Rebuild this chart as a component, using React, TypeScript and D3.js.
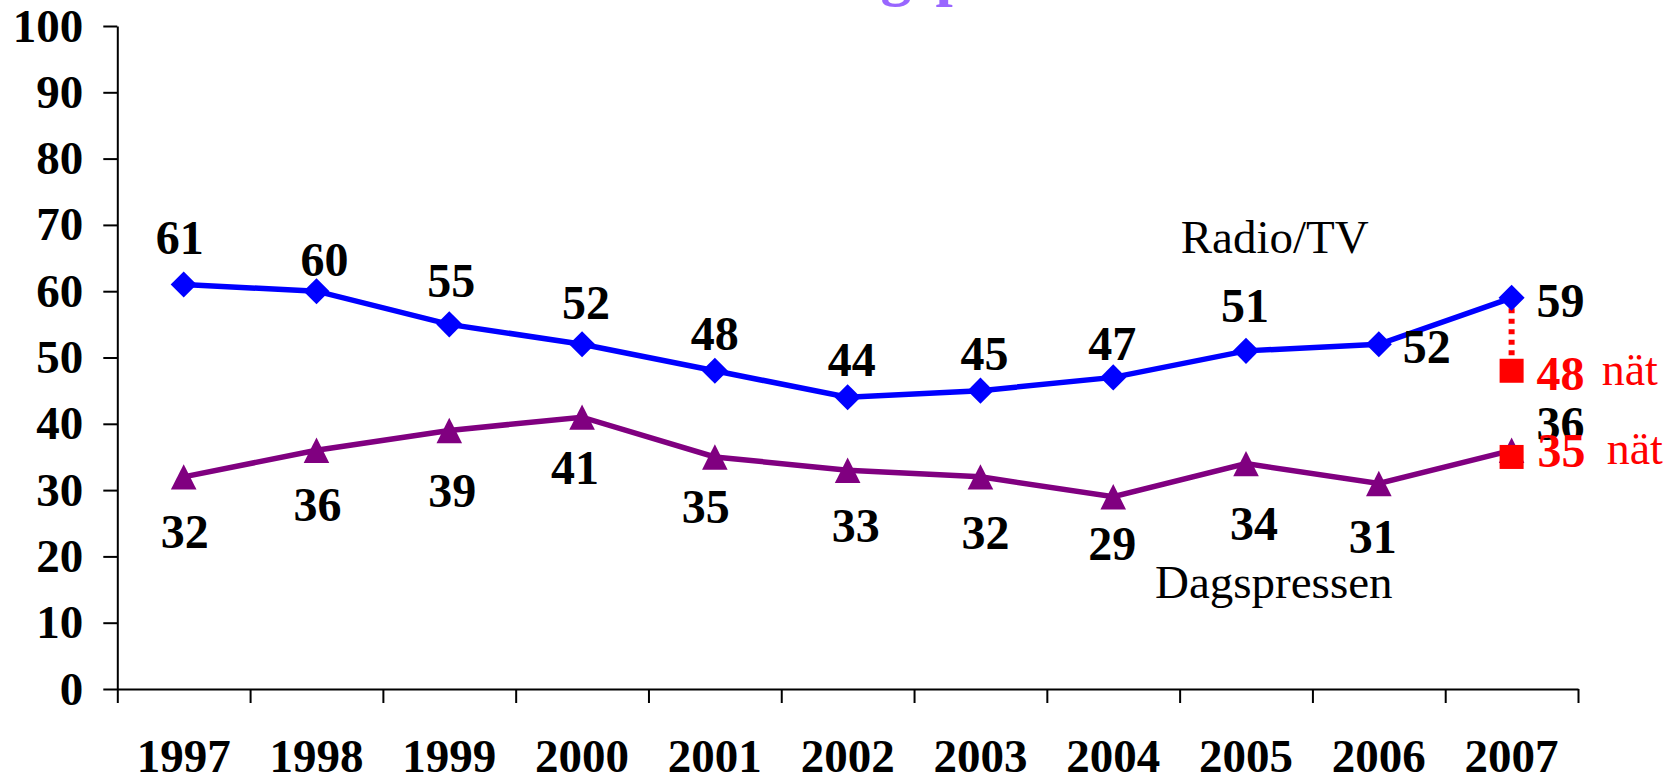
import React, { useRef, useEffect } from 'react';
import * as d3 from 'd3';

// values
const years = ['1997', '1998', '1999', '2000', '2001', '2002', '2003', '2004', '2005', '2006', '2007'];
const radioTv = [61, 60, 55, 52, 48, 44, 45, 47, 51, 52, 59];
const dagspressen = [32, 36, 39, 41, 35, 33, 32, 29, 34, 31, 36];
const natYear = '2007';
const radioTvNat = 48;
const dagspressenNat = 35;
const yTicks = [0, 10, 20, 30, 40, 50, 60, 70, 80, 90, 100];

// label placement (px from the point: centre dx, baseline dy), like the hand-placed labels
const radioLabelPos = [[-4, -31], [8, -15], [2, -27], [4, -25], [0, -21], [4, -21], [4, -21], [-1, -17], [-1, -29], [48, 19], [49, 19]];
const dagsLabelPos = [[1, 71], [1, 71], [3, 77], [-7, 67], [-9, 66], [8, 72], [5, 72], [-1, 63], [8, 76], [-6, 70], [49, -10]];

const W = 1679;
const H = 775;
const left = 117.3;
const right = 1578;
const top = 26;
const bottom = 689;

const serif = "'Liberation Serif', 'Times New Roman', serif";
const BLUE = '#0000ff';
const PURPLE = '#800080';
const RED = '#ff0000';

const App = () => {
    const yAxisRef = useRef<SVGGElement>(null);
    const xAxisRef = useRef<SVGGElement>(null);
    const xLabelRef = useRef<SVGGElement>(null);

    const x = d3.scaleBand().domain(years).range([left, right]).paddingInner(0).paddingOuter(0);
    const xb = d3.scaleLinear().domain([0, years.length]).range([left, right]);
    const y = d3.scaleLinear().domain([0, 100]).range([bottom, top]);
    const cx = (yr: string) => (x(yr) as number) + x.bandwidth() / 2;

    const line = d3.line<number>()
        .x((_, i) => cx(years[i]))
        .y(d => y(d));

    const diamond = d3.symbol().type(d3.symbolSquare).size(340)();
    const triangle = d3.line()([[0, -12.7], [12.8, 12.7], [-12.8, 12.7]]) + 'Z';

    useEffect(() => {
        const ya = d3.select(yAxisRef.current);
        ya.selectAll('*').remove();
        ya.call(d3.axisLeft(y).tickValues(yTicks).tickSize(14).tickSizeOuter(0).tickPadding(20));

        const xa = d3.select(xAxisRef.current);
        xa.selectAll('*').remove();
        xa.call(d3.axisBottom(xb).tickValues(d3.range(0, years.length + 1)).tickFormat(() => '').tickSize(14).tickSizeOuter(0));

        const xl = d3.select(xLabelRef.current);
        xl.selectAll('*').remove();
        xl.call(d3.axisBottom(x).tickSize(0).tickPadding(49.6));
        xl.select('.domain').remove();

        [ya, xa, xl].forEach(g => {
            g.selectAll('.domain').attr('stroke', '#000').attr('stroke-width', 2);
            g.selectAll('line').attr('stroke', '#000').attr('stroke-width', 2);
            g.selectAll('text')
                .attr('fill', '#000')
                .style('font-family', serif)
                .style('font-weight', 'bold');
            g.attr('font-size', null).attr('font-family', null);
        });
        ya.selectAll('text').style('font-size', '47px');
        xl.selectAll('text').style('font-size', '47px');
    }, []);

    const nx = cx(natYear);

    return (
        <div style={{ position: 'absolute', left: 0, top: 0 }}>
            <svg width={W} height={H} style={{ display: 'block', background: '#fff' }}>
                {/* title, mostly above the visible area */}
                <text x={815} y={-6} textAnchor="end" fill="#9966ff" fontFamily={serif} fontWeight="bold" fontSize={62}>Förtroende för </text>
                <text x={815} y={-6} fill="#9966ff" fontFamily={serif} fontWeight="bold" fontSize={62}>dagspressen och radio/TV</text>

                <g ref={yAxisRef} transform={`translate(${left},0)`} />
                <g ref={xAxisRef} transform={`translate(0,${bottom})`} />
                <g ref={xLabelRef} transform={`translate(0,${bottom})`} />

                {/* web figures for 2007 */}
                <line x1={nx} x2={nx} y1={y(radioTv[radioTv.length - 1])} y2={y(radioTvNat)}
                    stroke={RED} strokeWidth={6} strokeDasharray="5,5.5" />

                <path d={line(dagspressen) as string} fill="none" stroke={PURPLE} strokeWidth={5.5} />
                <path d={line(radioTv) as string} fill="none" stroke={BLUE} strokeWidth={5.5} />

                {radioTv.map((v, i) => (
                    <path key={'r' + i} d={diamond as string} fill={BLUE}
                        transform={`translate(${cx(years[i])},${y(v)}) rotate(45)`} />
                ))}
                {dagspressen.map((v, i) => (
                    <path key={'d' + i} d={triangle} fill={PURPLE}
                        transform={`translate(${cx(years[i])},${y(v)})`} />
                ))}

                {[radioTvNat, dagspressenNat].map((v, i) => (
                    <rect key={'n' + i} x={nx - 12} y={y(v) - 12} width={24} height={24} fill={RED} />
                ))}

                <g fontFamily={serif} fontWeight="bold" fontSize={48} fill="#000" textAnchor="middle">
                    {radioTv.map((v, i) => (
                        <text key={'rl' + i} x={cx(years[i]) + radioLabelPos[i][0]} y={y(v) + radioLabelPos[i][1]}>{v}</text>
                    ))}
                    {dagspressen.map((v, i) => (
                        <text key={'dl' + i} x={cx(years[i]) + dagsLabelPos[i][0]} y={y(v) + dagsLabelPos[i][1]}>{v}</text>
                    ))}
                </g>

                <g fontFamily={serif} fill={RED}>
                    <text x={nx + 49} y={y(radioTvNat) + 19} textAnchor="middle" fontWeight="bold" fontSize={48}>{radioTvNat}</text>
                    <text x={1601.7} y={y(radioTvNat) + 14} fontSize={46}>nät</text>
                    <text x={nx + 50} y={y(dagspressenNat) + 10} textAnchor="middle" fontWeight="bold" fontSize={48}>{dagspressenNat}</text>
                    <text x={1606.7} y={y(dagspressenNat) + 7} fontSize={46}>nät</text>
                </g>

                <g fontFamily={serif} fontSize={47} fill="#000">
                    <text x={1180.7} y={253.3}>Radio/TV</text>
                    <text x={1155} y={598.3}>Dagspressen</text>
                </g>
            </svg>
        </div>
    );
};

export default App;
